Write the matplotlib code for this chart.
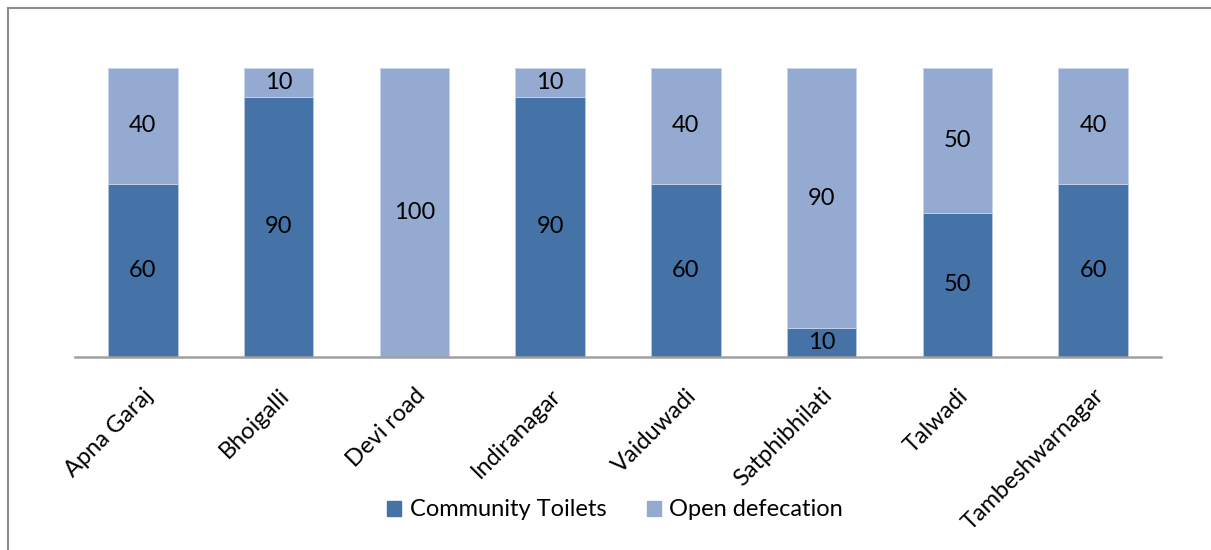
import matplotlib
matplotlib.use("Agg")
import matplotlib.pyplot as plt
from matplotlib.lines import Line2D
import numpy as np

categories = ["Apna Garaj", "Bhoigalli", "Devi road", "Indiranagar",
              "Vaiduwadi", "Satphibhilati", "Talwadi", "Tambeshwarnagar"]
community_toilets = [60, 90, 0, 90, 60, 10, 50, 60]
open_defecation = [40, 10, 100, 10, 40, 90, 50, 40]
series_names = ["Community Toilets", "Open defecation"]

dark = "#4573A7"
light = "#95AAD1"

plt.rcParams['font.family'] = ['Lato', 'DejaVu Sans']
FS = 17

fig = plt.figure(figsize=(12.11, 5.50), dpi=100)
ax = fig.add_axes([75/1211, 1-357/550, 1086/1211, (357-68)/550])

x = np.arange(len(categories))
w = 0.512
ax.bar(x, community_toilets, w, color=dark, edgecolor="#B8C8E0", linewidth=0.6,
       label=series_names[0])
ax.bar(x, open_defecation, w, bottom=community_toilets, color=light,
       edgecolor="#C8D4E8", linewidth=0.6, label=series_names[1])

for xi, c, o in zip(x, community_toilets, open_defecation):
    if c > 0:
        ax.text(xi, c/2, str(c), ha='center', va='center', fontsize=FS, color='black')
    if o > 0:
        ax.text(xi, c + o/2, str(o), ha='center', va='center', fontsize=FS, color='black')

ax.set_xlim(-0.5, len(categories)-0.5)
ax.set_ylim(0, 100)
for s in ['top', 'right', 'left']:
    ax.spines[s].set_visible(False)
ax.spines['bottom'].set_color('#A0A0A0')
ax.spines['bottom'].set_linewidth(1.8)
ax.set_yticks([])
ax.set_xticks(x)
ax.set_xticklabels(categories, rotation=45, ha='right', rotation_mode='anchor', fontsize=FS)
ax.tick_params(axis='x', length=0, pad=20)

handles = [plt.Rectangle((0, 0), 1, 1, color=dark), plt.Rectangle((0, 0), 1, 1, color=light)]
fig.legend(handles, series_names, loc='center', bbox_to_anchor=(615/1211, 1-510/550),
           ncol=2, frameon=False, fontsize=FS, handlelength=0.6, handleheight=0.6,
           handletextpad=0.35, columnspacing=1.7)

# outer border (top and left visible)
fig.add_artist(Line2D([8/1211, 1.0], [1-8/550, 1-8/550], transform=fig.transFigure,
                      color='#8C8C8C', linewidth=1.5))
fig.add_artist(Line2D([8/1211, 8/1211], [0, 1-8/550], transform=fig.transFigure,
                      color='#8C8C8C', linewidth=1.5))

fig.savefig("out.png", dpi=100)
